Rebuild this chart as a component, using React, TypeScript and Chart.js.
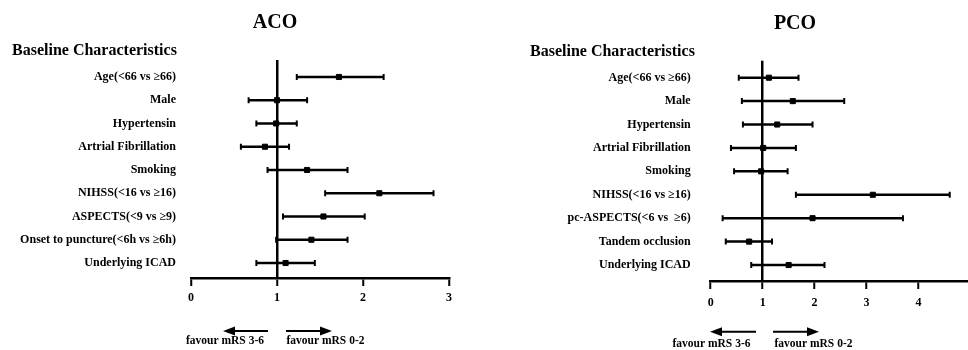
import React, { useEffect, useRef } from "react";
import { Chart, registerables } from "chart.js";

Chart.register(...registerables);

// ---------- data ----------
const acoLabels = [
  "Age(<66 vs ≥66)",
  "Male",
  "Hypertensin",
  "Artrial Fibrillation",
  "Smoking",
  "NIHSS(<16 vs ≥16)",
  "ASPECTS(<9 vs ≥9)",
  "Onset to puncture(<6h vs ≥6h)",
  "Underlying ICAD",
];
const acoOR = [1.72, 1.0, 0.99, 0.86, 1.35, 2.19, 1.54, 1.4, 1.1];
const acoLower = [1.23, 0.67, 0.76, 0.58, 0.89, 1.56, 1.07, 0.99, 0.76];
const acoUpper = [2.24, 1.35, 1.23, 1.14, 1.82, 2.82, 2.02, 1.82, 1.44];
const acoTicks = [0, 1, 2, 3];

const pcoLabels = [
  "Age(<66 vs ≥66)",
  "Male",
  "Hypertensin",
  "Artrial Fibrillation",
  "Smoking",
  "NIHSS(<16 vs ≥16)",
  "pc-ASPECTS(<6 vs  ≥6)",
  "Tandem occlusion",
  "Underlying ICAD",
];
const pcoOR = [1.12, 1.58, 1.28, 1.01, 0.97, 3.12, 1.96, 0.74, 1.5];
const pcoLower = [0.54, 0.6, 0.62, 0.39, 0.45, 1.64, 0.23, 0.29, 0.78];
const pcoUpper = [1.69, 2.57, 1.96, 1.64, 1.48, 4.6, 3.7, 1.18, 2.19];
const pcoTicks = [0, 1, 2, 3, 4, 5];

const sectionTitle = "Baseline Characteristics";
const favourLeft = "favour mRS 3-6";
const favourRight = "favour mRS 0-2";

const FONT = "'Times New Roman', 'Liberation Serif', serif";

type PanelProps = {
  title: string;
  labels: string[];
  or: number[];
  lower: number[];
  upper: number[];
  ticks: number[];
  left: number;
  width: number;
  padTop: number;
  padRight: number;
  yAxisWidth: number;
  yPad: number;
  xAxisHeight: number;
  xTickPad: number;
  yMin: number;
  yMax: number;
  titleX: number;
  titleY: number;
  subX: number;
  subY: number;
  arrowY: number;
  lArrow: [number, number];
  rArrow: [number, number];
  favY: number;
  favLX: number;
  favRX: number;
};

function drawArrow(ctx: CanvasRenderingContext2D, from: number, to: number, y: number) {
  const dir = to > from ? 1 : -1;
  const headLen = 12;
  const headHalf = 4.5;
  ctx.beginPath();
  ctx.moveTo(from, y);
  ctx.lineTo(to - dir * headLen + dir * 1, y);
  ctx.lineWidth = 2;
  ctx.strokeStyle = "#000";
  ctx.stroke();
  ctx.beginPath();
  ctx.moveTo(to, y);
  ctx.lineTo(to - dir * headLen, y - headHalf);
  ctx.lineTo(to - dir * headLen, y + headHalf);
  ctx.closePath();
  ctx.fillStyle = "#000";
  ctx.fill();
}

function Panel(p: PanelProps) {
  const ref = useRef<HTMLCanvasElement | null>(null);
  useEffect(() => {
    if (!ref.current) return;
    const ciSets = p.labels.map((_, i) => ({
      data: [
        { x: p.lower[i], y: i },
        { x: p.upper[i], y: i },
      ],
      showLine: true,
      borderColor: "#000",
      borderWidth: 2.5,
      pointStyle: "line" as const,
      pointRotation: 90,
      pointRadius: 3,
      pointHoverRadius: 3,
      pointBorderWidth: 2,
      pointBorderColor: "#000",
      pointBackgroundColor: "#000",
    }));
    const orSet = {
      data: p.or.map((v, i) => ({ x: v, y: i })),
      showLine: false,
      pointStyle: "rect" as const,
      pointRadius: 3.6,
      pointHoverRadius: 3.6,
      pointBorderWidth: 1,
      pointBorderColor: "#000",
      pointBackgroundColor: "#000",
    };
    const annot = {
      id: "annot",
      afterDraw(chart: any) {
        const ctx: CanvasRenderingContext2D = chart.ctx;
        ctx.save();
        ctx.fillStyle = "#000";
        ctx.textBaseline = "alphabetic";
        ctx.font = `bold 20px ${FONT}`;
        ctx.textAlign = "center";
        ctx.fillText(p.title, p.titleX, p.titleY);
        ctx.font = `bold 16px ${FONT}`;
        ctx.textAlign = "left";
        ctx.fillText(sectionTitle, p.subX, p.subY);
        drawArrow(ctx, p.lArrow[0], p.lArrow[1], p.arrowY);
        drawArrow(ctx, p.rArrow[0], p.rArrow[1], p.arrowY);
        ctx.font = `bold 11.5px ${FONT}`;
        ctx.textAlign = "center";
        ctx.fillStyle = "#000";
        ctx.fillText(favourLeft, p.favLX, p.favY);
        ctx.fillText(favourRight, p.favRX, p.favY);
        ctx.restore();
      },
    };
    const chart = new Chart(ref.current, {
      type: "scatter",
      data: { datasets: [...ciSets, orSet] as any },
      options: {
        responsive: false,
        animation: false,
        events: [],
        layout: { padding: { top: p.padTop, right: p.padRight, left: 0, bottom: 0 } },
        plugins: { legend: { display: false }, tooltip: { enabled: false } },
        scales: {
          x: {
            type: "linear",
            min: p.ticks[0],
            max: p.ticks[p.ticks.length - 1],
            afterBuildTicks: (s: any) => {
              s.ticks = p.ticks.map((v) => ({ value: v }));
            },
            afterFit: (s: any) => {
              s.height = p.xAxisHeight;
            },
            border: { display: true, color: "#000", width: 2.5 },
            grid: {
              display: true,
              drawOnChartArea: true,
              drawTicks: true,
              color: (c: any) => (c.tick && c.tick.value === 1 ? "#000" : "rgba(0,0,0,0)"),
              lineWidth: 2.5,
              tickColor: "#000",
              tickWidth: 2,
              tickLength: 8,
            },
            ticks: {
              color: "#000",
              padding: p.xTickPad,
              font: { family: FONT, size: 12, weight: "bold" },
              autoSkip: false,
              maxRotation: 0,
            },
          },
          y: {
            type: "linear",
            reverse: true,
            min: p.yMin,
            max: p.yMax,
            afterBuildTicks: (s: any) => {
              s.ticks = p.labels.map((_, i) => ({ value: i }));
            },
            afterFit: (s: any) => {
              s.width = p.yAxisWidth;
            },
            border: { display: false },
            grid: { display: false, drawTicks: false },
            ticks: {
              color: "#000",
              padding: p.yPad,
              autoSkip: false,
              font: { family: FONT, size: 12, weight: "bold" },
              callback: (v: any) => p.labels[v as number] ?? "",
            },
          },
        },
      },
      plugins: [annot],
    });
    return () => chart.destroy();
  }, []);
  return (
    <canvas
      ref={ref}
      width={p.width}
      height={350}
      style={{ position: "absolute", left: p.left, top: 0, width: p.width, height: 350 }}
    />
  );
}

export default function App() {
  return (
    <div
      style={{
        position: "fixed",
        left: 0,
        top: 0,
        width: 968,
        height: 350,
        overflow: "hidden",
        background: "#fff",
      }}
    >
      <Panel
        title="ACO"
        labels={acoLabels}
        or={acoOR}
        lower={acoLower}
        upper={acoUpper}
        ticks={acoTicks}
        left={0}
        width={484}
        padTop={60}
        padRight={35}
        yAxisWidth={191}
        yPad={15}
        xAxisHeight={72}
        xTickPad={5}
        yMin={-0.73}
        yMax={8.645}
        titleX={275}
        titleY={28}
        subX={12}
        subY={55}
        arrowY={331}
        lArrow={[268, 223]}
        rArrow={[286, 332]}
        favY={344}
        favLX={225}
        favRX={325.5}
      />
      <Panel
        title="PCO"
        labels={pcoLabels}
        or={pcoOR}
        lower={pcoLower}
        upper={pcoUpper}
        ticks={pcoTicks}
        left={484}
        width={500}
        padTop={60.7}
        padRight={13.5}
        yAxisWidth={226.7}
        yPad={20}
        xAxisHeight={69}
        xTickPad={6.5}
        yMin={-0.726}
        yMax={8.683}
        titleX={311}
        titleY={29}
        subX={46}
        subY={56}
        arrowY={331.7}
        lArrow={[272, 226]}
        rArrow={[289, 335]}
        favY={347}
        favLX={227.5}
        favRX={329.5}
      />
    </div>
  );
}
